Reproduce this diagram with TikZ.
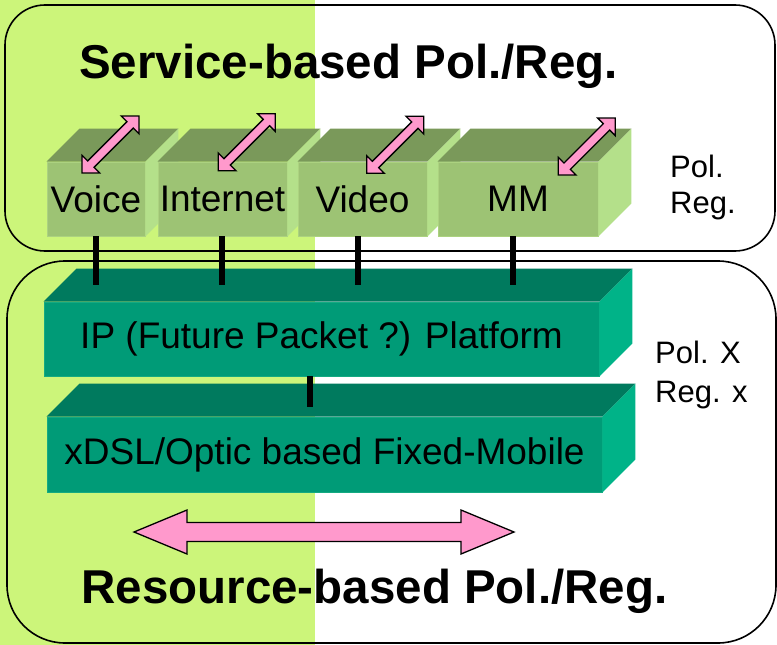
\documentclass[tikz,border=0pt]{standalone}
\usepackage{fontspec}
\setmainfont{Liberation Sans}
\usetikzlibrary{calc}
\definecolor{bggreen}{RGB}{204,245,122}
\definecolor{frontG}{RGB}{157,195,116}
\definecolor{topG}{RGB}{122,153,90}
\definecolor{sideG}{RGB}{180,224,138}
\definecolor{edgeG}{RGB}{172,210,128}
\definecolor{frontT}{RGB}{0,155,119}
\definecolor{topT}{RGB}{0,122,94}
\definecolor{sideT}{RGB}{0,179,136}
\definecolor{edgeT}{RGB}{20,170,130}
\definecolor{arrpink}{RGB}{255,153,204}
\newcommand\cubefaces[3]{%
  \fill[#2] (#1.north west) -- ++(33,-33) -- ($(#1.north east)+(33,-33)$) -- (#1.north east) -- cycle;
  \fill[#3] (#1.north east) -- ++(33,-33) -- ($(#1.south east)+(33,-33)$) -- (#1.south east) -- cycle;}
\newcommand\blockdblarrow[6]{%
  \begin{scope}[shift={(#1)}, rotate=#2]
    \draw[arrowline] (0,0) -- (#4,#5) -- (#4,#6) -- ({#3-#4},#6) -- ({#3-#4},#5) -- (#3,0)
      -- ({#3-#4},-#5) -- ({#3-#4},-#6) -- (#4,-#6) -- (#4,-#5) -- cycle;
  \end{scope}}
\begin{document}
\begin{tikzpicture}[x=1pt,y=-1pt,
  frame/.style={draw=black, line width=1.6pt},
  svcbox/.style={fill=frontG, draw=edgeG, line width=0.8pt, inner sep=0pt, minimum height=74pt,
    font=\fontsize{37}{44}\selectfont, text=black},
  platbox/.style={fill=frontT, draw=edgeT, line width=0.8pt, inner sep=0pt, minimum width=555pt,
    font=\fontsize{37}{44}\selectfont, text=black},
  link/.style={draw=black, line width=5.5pt},
  arrowline/.style={fill=arrpink, draw=black, line width=1.3pt, line join=miter},
  title/.style={font=\fontsize{47.5}{56}\selectfont\bfseries, inner sep=0pt, anchor=base},
  side/.style={font=\fontsize{31}{37}\selectfont, inner sep=0pt, anchor=base west}]
\useasboundingbox (0,0) rectangle (777,645);
\fill[white] (0,0) rectangle (777,645);
\fill[bggreen] (0,0) rectangle (315,645);

% frames
\draw[frame, rounded corners=40pt] (5,5) rectangle (775,251);
\draw[frame, rounded corners=58pt] (7,261) rectangle (776,643);

% titles and side labels
\node[title] (svctitle) at (348.5,78) {Service-based Pol./Reg.};
\node[title] (restitle) at (374.5,603) {Resource-based Pol./Reg.};
\node[side] (pol1) at (670,177) {Pol.};
\node[side] (reg1) at (670,213) {Reg.};
\node[side] (pol2) at (655,363) {Pol. X};
\node[side] (reg2) at (655,402) {Reg. x};

% service boxes
\node[svcbox, minimum width=98pt] (voice) at (96,199) {Voice};
\cubefaces{voice}{topG}{sideG}
\node[svcbox, minimum width=129pt] (internet) at (222.5,199) {Internet};
\cubefaces{internet}{topG}{sideG}
\node[svcbox, minimum width=129pt] (video) at (362.5,199) {Video};
\cubefaces{video}{topG}{sideG}
\node[svcbox, minimum width=160pt] (mm) at (518,199) {MM};
\cubefaces{mm}{topG}{sideG}

% platforms
\node[platbox, minimum height=74pt] (ip) at (321.5,339) {IP (Future Packet ?) Platform};
\cubefaces{ip}{topT}{sideT}
\node[platbox, minimum height=75pt] (xdsl) at (324.5,454.5) {xDSL/Optic based Fixed-Mobile};
\cubefaces{xdsl}{topT}{sideT}

% links
\coordinate (l1) at (96,285);
\coordinate (l2) at (222,285);
\coordinate (l3) at (358,285);
\coordinate (l4) at (513,285);
\coordinate (l5) at (310,407);
\draw[link] (voice.south -| l1) -- (l1);
\draw[link] (internet.south -| l2) -- (l2);
\draw[link] (video.south -| l3) -- (l3);
\draw[link] (mm.south -| l4) -- (l4);
\draw[link] (ip.south -| l5) -- (l5);

% arrows
\coordinate (a1) at (82,173);
\coordinate (a2) at (218.3,170.7);
\coordinate (a3) at (366.7,173.3);
\coordinate (a4) at (558.3,175);
\coordinate (a5) at (134,532);
\blockdblarrow{a1}{45}{80.6}{12.5}{12.5}{4.5}
\blockdblarrow{a2}{45}{80.6}{12.5}{12.5}{4.5}
\blockdblarrow{a3}{45}{80.6}{12.5}{12.5}{4.5}
\blockdblarrow{a4}{45}{80.6}{12.5}{12.5}{4.5}
\blockdblarrow{a5}{0}{380}{53}{22}{9.5}
\end{tikzpicture}
\end{document}
